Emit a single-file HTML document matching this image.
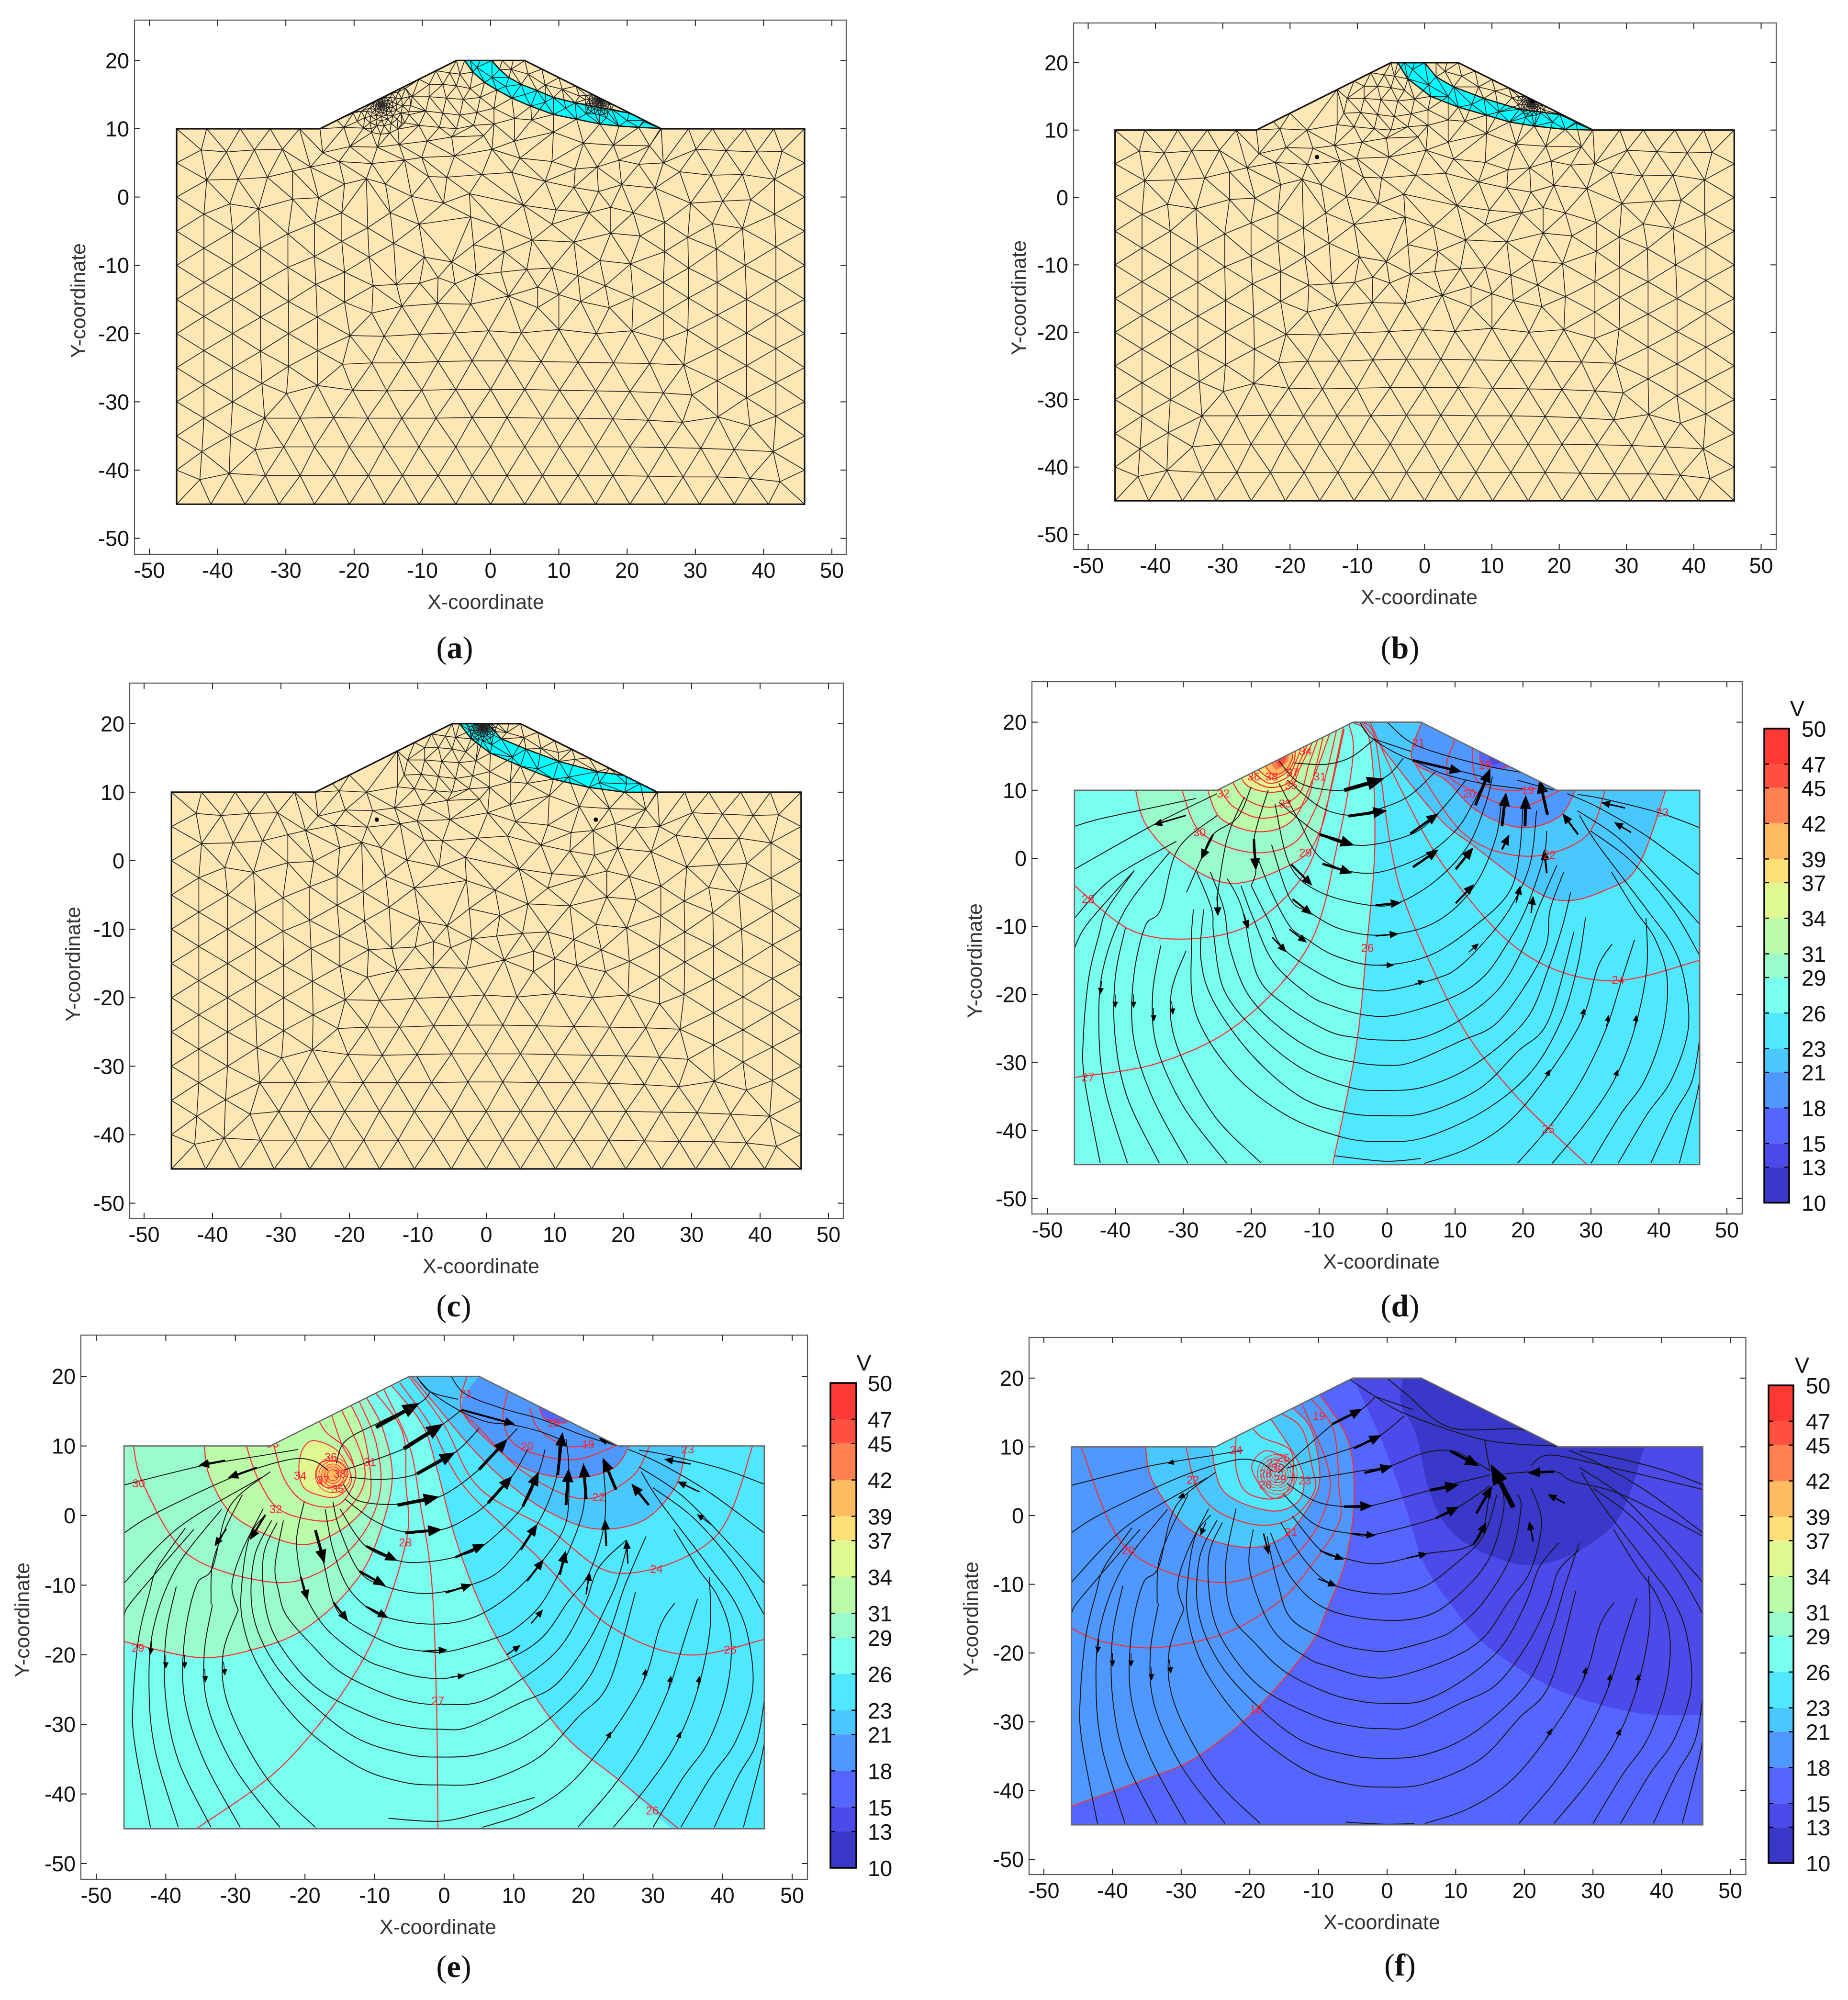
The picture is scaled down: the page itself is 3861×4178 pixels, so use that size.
<!DOCTYPE html>
<html lang="en">
<head>
<meta charset="utf-8">
<title>Seepage mesh and potential fields (a)-(f)</title>
<style>
html,body{margin:0;padding:0;background:#fff}
svg{display:block}
text{font-family:"Liberation Sans",sans-serif}
</style>
</head>
<body>
<svg id="fig" xmlns="http://www.w3.org/2000/svg" width="3861" height="4178" viewBox="0 0 3861 4178"></svg>
<script>
/* ---------- shared axis data ---------- */
const xTickValues=[-50,-40,-30,-20,-10,0,10,20,30,40,50];
const yTickValues=[-50,-40,-30,-20,-10,0,10,20];
const colorbarLevels=[50,47,45,42,39,37,34,31,29,26,23,21,18,15,13,10];
const bandLower=[47,45,42,39,37,34,31,29,26,23,21,18,15,13,10];
const bandColors=['#ff3a35','#ff5040','#ff8050','#ffbb60','#fce075','#e0f890','#bbfca8','#9bfccb','#78ffee','#50e8ff','#48c8ff','#4f98ff','#5566ff','#4c4ae8','#3a38c8'];
const domainOutline=[[-46,10],[-25,10],[-5,20],[5,20],[25,10],[46,10],[46,-45],[-46,-45]];

/* ---------- mesh nodes (data coordinates) ---------- */
const meshNodesCommon=[
[-46,-45],[-41,-45],[-36,-45],[-31,-45],[-25.8,-45],[-20.7,-45],[-15.6,-45],[-10.5,-45],[-5.1,-45],[0,-45],[5,-45],[10.1,-45],[15.4,-45],[20.4,-45],[25.6,-45],[30.6,-45],[35.7,-45],[40.7,-45],[46,-45],
[-46,-40],[-46,-35],[-46,-30],[-46,-25],[-46,-20],[-46,-15],[-46,-10],[-46,-5],[-46,0],[-46,5],[-46,10],
[46,-40],[46,-35],[46,-30],[46,-25],[46,-20],[46,-15],[46,-10],[46,-5],[46,0],[46,5],[46,10],
[-41.6,10],[-36.7,10],[-32.3,10],[-28,10],[-25,10],[25,10],[29,10],[32.5,10],[37.2,10],[41.5,10],
[-42.6,-41.4],[-38.3,-40.5],[-33,-40.8],[-27.9,-40.8],[-22.9,-40.8],[-17.9,-40.8],[-12.9,-40.8],[-7.7,-40.8],[-2.7,-40.8],[2.4,-40.8],[7.6,-40.8],[12.8,-40.8],[17.9,-40.8],[23.1,-40.9],[28.2,-41],[33.2,-41],[38,-41.2],[42.4,-41.7],
[-42.3,-37.3],[-38.1,-34.9],[-34.5,-37],[-30.3,-36.6],[-25.8,-36.6],[-20.7,-36.6],[-15.6,-36.6],[-10.5,-36.6],[-5.1,-36.6],[0,-36.6],[5,-36.6],[10.1,-36.6],[15.4,-36.6],[20.4,-36.6],[25.6,-36.7],[30.8,-36.8],[35.7,-37],[41.4,-37.3],
[-42,-32.4],[-33.1,-32.4],[-27.9,-32.4],[-23,-32.3],[-18,-32.4],[-13,-32.4],[-8,-32.4],[-2.7,-32.3],[2.4,-32.3],[7.6,-32.4],[12.8,-32.4],[17.9,-32.5],[23.1,-32.7],[28.1,-33],[33.3,-32.2],[38,-33.5],[41.8,-32.1],
[-42,-27.5],[-37.8,-30],[-33.5,-27.3],[-29.9,-28.8],[-25.4,-27.6],[-20.2,-28.3],[-15.2,-28.4],[-10.1,-28.3],[-5.1,-28.2],[0,-28.2],[5,-28.2],[10.1,-28.3],[15.4,-28.4],[20.4,-28.5],[25.3,-28.7],[29.5,-29],[33.2,-26.9],[37.5,-29.4],[41.8,-27.2],
[-42,-22.5],[-37.8,-25],[-33.7,-22.6],[-29.6,-24.8],[-25.3,-22.5],[-21.7,-24.5],[-17.4,-24.3],[-12.7,-24.3],[-7.7,-24.1],[-2.7,-24],[2.4,-24],[7.4,-24.1],[12.8,-24.2],[18,-24.3],[23.3,-24.4],[28.3,-24.6],[33.2,-22.2],[37.5,-24.7],[41.8,-22.2],
[-37.8,-20],[-33.7,-17.6],[-29.6,-20],[-25.4,-17.6],[-20.6,-20.3],[-15.6,-20.4],[-10.4,-20.1],[-5.3,-19.9],[-.3,-19.6],[4.5,-19.9],[10,-19.4],[15.5,-20],[20.7,-19.6],[25.3,-20.9],[28.9,-19.5],[33.2,-17.3],[37.5,-19.9],[41.8,-17.2],
[-42,-17.5],[-42,-12.5],[-42,-7.5],[-42,-2.5],[-41.6,2.5],[-42.4,6.9],
[-37.8,-15],[-37.8,-10],[-37.8,-5],[-38.2,-1],[-37,2.6],[-38.7,6.6],
[-33.7,-12.6],[-33.7,-7.5],[-34,-1.7],[-32.7,2.9],[-34.6,6.9],
[-29.6,-15.3],[-29.7,-10.3],[-29.7,-5.4],[-29,-.3],[-29,3.8],[-30.5,7],
[-25.6,-12.8],[-25.8,-8.7],[-25.8,-3.8],[-25.2,-.1],[-26.4,4.4],[-24.6,6.5],
[41.8,-12.3],[41.8,-7.3],[41.6,-2.5],[41.6,2.6],[42.7,6.7],
[37.5,-15],[37.3,-10],[36.9,-4.6],[38.1,-.4],[36.9,3.3],[39,6.6],
[33.2,-12.5],[33.1,-7.6],[32.5,-3.9],[34,-.6],[32.3,3.2],[34.5,6.8],
[29,-14.8],[29,-10.4],[28.9,-5.9],[29.3,-.9],[27.7,3.7],[30.1,7],
[25.3,-17],[25.3,-12.5],[25.5,-8],[25.5,-3.7],[24.1,1.3],[25.3,5],[23.3,7.5],
[-21.4,-15.4],[-17.4,-17],[-13,-16],[-7.8,-15.6],[-2.9,-15.7],[2.6,-14.5],[6.9,-13.2],[6.9,-16.2],[10,-14.3],[13.2,-15.3],[17.4,-16.2],[20.9,-14.7],
[-21.4,-11],[-17.2,-13],[-13.8,-12.8],[-10.4,-12.6],[-7.7,-11.8],[-5.2,-12.7],[-2.1,-11.4],[1.5,-11],[5.3,-10.6],[9,-10.4],[12.8,-11.5],[16.8,-13],[20.5,-9.8],[16,-9.3],
[-21.8,-6.5],[-17.8,-8.8],[-14.2,-6.8],[-9.7,-8.8],[-5.7,-9.5],[-2.5,-7],[1.3,-4.3],[6.1,-6.3],[12.2,-6.6],[17.6,-5.3],[21.9,-5.7],[2,-8],[9,-4],
[-21.8,-2.3],[-18,-4.5],[-14.7,-2.3],[-10.5,-4],[-6.9,-.9],[-2.9,-2.9],[4.8,-1.2],[9.6,-1.9],[14.4,-2.3],[17.6,-1.5],[20.9,-2.3],
[-21.4,1.9],[-18.2,2.7],[-15.4,1.9],[-11.6,.1],[-9.1,3],[-6.4,2.9],[-3.1,.5],[-1.3,3.3],[3.1,3.6],[8,2.3],[12.2,1.4],[15.8,.8],[19.2,1.8],
[-22.2,5.2],[-17.4,4.9],[-12.6,5.4],[-10.1,5.8],[-5.3,6],[.2,7],[4.3,5.7],[9,5.2],[12.4,4.1],[15.6,4.4],[18.8,5.4],[21.7,4.8],
[-20.6,7.4],[-16.6,7.3],[-13.4,7.7],[-9.3,8.2],[-5.7,8.8],[-1,9],[3.5,8.2],[9.2,9.5],[13.6,7.9],[18,7.6],
[-21.5,10.2],[-17.5,10],[-13,10.8],[-10.5,10.5],[-7.5,10.2],[-5,10],[-2.5,10.5],[.5,10.7],[3.5,11.5],[6,11.3],
[-22.5,11.25],[-20,12.5],[-13,16],[-10.5,17.25],[-8,18.5],[-5,20],[-3,20],[-1.5,20],[1.7,20],[3.3,20],[5,20],[7.5,18.75],[10,17.5],[12.5,16.25],[15,15],[18,13.5],[22.5,11.25],
[-12,12.5],[-9.5,12.6],[-7,12.3],[-4.5,12],[-2,12.4],[.5,13],
[-11.5,14.7],[-9,14.7],[-6.5,14.5],[-4,14.3],[-1.5,14.6],
[-9,16.5],[-7,16.5],[-5,16.3],[-3,15.9],
[-6,18.2],[-4.5,18],
[3,18.7],[5.5,18],[8,16.4],[10.5,15.8],[13,14.8]];
const clusterRadii=[.25,.5,.8,1.2,1.7,2.3,3.1,4.3];
const clusterCounts=[6,8,10,12,14,16,18,20];
const clusterCentersA=[[-16,13.5,1],[16,14.2,.5]];
const clusterCentersB=[[16,14.3,.5]];
const clusterCentersC=[[-.5,19.5,.45]];
const meshDotsA=[];
const meshDotsB=[[-16,6],[16,14.3]];
const meshDotsC=[[-16,6],[16,6]];
const slipOuterA=[[-3.8,20],[-2.6,18.3],[-.9,16.8],[.9,15.7],[3.1,14.5],[5.9,13.3],[9.2,12.1],[12.6,11.4],[16,10.7],[18.8,10.4],[21.7,10.2],[24.9,10.05]];
const slipInnerA=[[.2,20],[1.3,18.7],[2.7,17.5],[4.5,16.5],[6.8,15.6],[9.2,14.6],[12.4,13.8],[16,13.1],[20.3,12.3]];
const slipMidA=[[-2,19],[.2,17.5],[2.2,16.2],[5,15],[8,13.9],[11,13],[14,12.2],[17,11.6],[20,11.2],[22.5,11]];
const slipOuterB=[[-4,20],[-2.5,17.6],[.9,15],[5,13.4],[9.2,12.2],[12.6,11.2],[16.3,10.6],[20.9,10.1],[25,10]];
const slipInnerB=[[0,20],[1.7,17.9],[4.3,16.4],[8.8,14.7],[14.1,13.1],[20.1,12.3]];
const slipMidB=[[-1.8,19],[.6,16.7],[3.5,15],[7,13.8],[11,12.7],[15,11.9],[19,11.2],[22.5,11]];
const slipOuterC=[[-3.9,20],[-2.2,17.8],[.6,15.7],[5,13.8],[9.8,11.9],[15,10.7],[20.2,10],[24.9,10]];
const slipInnerC=[[.2,20],[2.2,17.8],[5.8,16.3],[10.6,14.5],[16.2,13],[20.4,12.4]];
const slipMidC=[[-1.8,19],[.8,16.9],[3.8,15.1],[7.5,13.4],[12,12.2],[16.5,11.4],[20.5,11.2]];

/* ---------- potential field: filled bands ---------- */
const regionsD=[
{band:26,pts:[[-8,-46],[-4.6,-28],[-3,-13],[-1.8,2],[-2.5,17],[-5.4,20]],close:[[-5.4,30],[-50,30],[-50,-50],[-8,-50]]},
{band:29,pts:[[-37,10],[-35.5,5],[-30.8,0],[-22.8,-3.7],[-13.1,-.3],[-9.8,4.2],[-8.2,10.8],[-6.4,19.4]]},
{band:31,pts:[[-26.4,10],[-24.4,5.8],[-18.9,3.9],[-13.9,5.6],[-11,11.5],[-9.8,14.5],[-8.4,18.4]]},
{band:34,pts:[[-21.8,12.3],[-20.3,10.5],[-17.1,9.7],[-14.1,10.5],[-12.9,13.1],[-11,16.97]]},
{band:37,pts:[[-19.4,13.4],[-17.1,11.7],[-14.8,12.6],[-13.7,14.3],[-13.5,15.7]]},
{band:39,pts:[[-18.3,14],[-16.7,12.3],[-14.9,13],[-14,14.5],[-13.9,15.3]]},
{band:42,pts:[[-17.4,14.6],[-16.3,13],[-14.7,14.2],[-14.5,15]]},
{band:45,pts:[[-16.5,14.9],[-15.9,13.4],[-14.9,14.4],[-14.9,15]]},
{band:21,pts:[[41,10],[37.2,-.6],[33,-4.3],[24.1,-5.9],[12.4,2.1],[7.1,6.5],[-1.8,17.6],[-3.8,20]]},
{band:18,pts:[[27.7,10],[25.3,6.1],[19.7,4.5],[13.2,7],[8.6,11.5],[3.7,14.5],[5.1,20]]},
{band:15,pts:[[17.9,13.5],[16.4,13.2],[14,13.9],[13.6,15.2]]},
{band:13,pts:[[16.6,14],[15.5,13.8],[14.9,15]]}];
const regionsE=[
{band:26,pts:[[33.7,-46],[25.1,-38],[17.5,-31.8],[11.5,-23.7],[7.2,-16.9],[3.8,-9.4],[1.2,-1.9],[-.9,6.2],[-3.1,13],[-7.6,18.7]],close:[[-7.6,30],[-50,30],[-50,-50],[33.7,-50]]},
{band:29,pts:[[-47,-18],[-35,-20.4],[-26.2,-18.9],[-19.9,-16.2],[-14,-11],[-10.2,-5],[-7.5,4.7],[-8.7,12.1],[-11.2,17]]},
{band:31,pts:[[-34.5,10.2],[-33.6,5.3],[-29.8,-.4],[-21.3,-4.1],[-15.7,-2.6],[-11.5,1],[-10.5,4.7],[-11.5,11.5],[-13.4,15.9]]},
{band:34,closed:true,pts:[[-19.2,10.7],[-15.7,9.6],[-13.8,6.9],[-13.4,4.7],[-15.2,2.8],[-17.5,2.8],[-20.3,4.2],[-20.8,8]]},
{band:37,closed:true,pts:[[-17.5,7.7],[-15,7.7],[-13.8,6],[-15,4.4],[-17.1,4.1],[-18.4,5.8]]},
{band:39,closed:true,pts:[[-16.8,7.1],[-15,7.1],[-14.7,5.7],[-15.7,4.7],[-17.1,4.9],[-17.8,5.9]]},
{band:21,pts:[[-4.8,20.1],[-.9,15.5],[3.8,9.9],[8.9,4.9],[14.9,.6],[21.7,-1.9],[28.6,-.7],[33.3,4.3],[34.8,10.2]]},
{band:18,pts:[[5,20.1],[2.5,15.2],[7.2,9.9],[12.3,6.5],[18.7,5.4],[24.3,6.8],[26.7,10.2]]},
{band:15,pts:[[13.6,15.8],[14.5,13.9],[17,13.3],[17.9,13.7]]}];
const regionsF=[
{band:18,pts:[[-47,-42.6],[-35.6,-38.5],[-28,-35.3],[-19.2,-28.3],[-11.3,-19],[-8.8,-13.8],[-6,-6.4],[-4.8,2.7],[-5.7,11],[-9.8,17.6]]},
{band:21,pts:[[-35.2,10],[-34.1,4.9],[-28.8,-2],[-21,-4.6],[-15.3,-3.3],[-11.4,1.3],[-9.8,5.5],[-11,12.4],[-13.8,15.7]]},
{band:23,pts:[[-25.6,10],[-23.8,3.5],[-17.2,.7],[-13.1,1.9],[-12.1,5.2],[-13.5,8.8],[-16.9,14]]},
{band:13,pts:[[-5.4,21],[-.4,10],[2.9,.6],[5.4,-7],[9.6,-13.3],[14.6,-19],[24.7,-25.3],[36.4,-28.7],[47,-29]]},
{band:10,pts:[[2.5,21],[2,16.3],[4.2,11.9],[6.3,3.1],[9.6,-2.6],[15.5,-6],[21.3,-7.2],[28,-5.1],[33.9,-.1],[37.5,10]]}];
const baseBandD=23, baseBandE=23, baseBandF=15;

/* ---------- potential field: red contour lines ---------- */
const contoursD=[
[[-46,-32.2],[-33.4,-30],[-21.6,-24.1],[-11.4,-12.6],[-7.2,2.5],[-5,15],[-5.6,19.7]],
[[-8,-45],[-4.6,-28],[-3,-13],[-1.8,2],[-2.5,17],[-5,20]],
[[-46,-4],[-37.6,-10.6],[-28.4,-11.8],[-19.5,-9.4],[-12,-2],[-8.8,8],[-6.3,19]],
[[-37,10],[-35.5,5],[-30.8,0],[-22.8,-3.7],[-13.1,-.3],[-9.8,4.2],[-8.2,10.8],[-6.4,19.4]],
[[-30.2,10],[-27.4,3.8],[-20.3,.9],[-13.9,2.1],[-10.6,7.2],[-8.9,12.6],[-7.4,19]],
[[-26.4,10],[-24.4,5.8],[-18.9,3.9],[-13.9,5.6],[-11,11.5],[-9.8,14.5],[-8.4,18.4]],
[[-24.6,10.2],[-22.5,7.5],[-18.1,5.9],[-12.3,7.9],[-10.6,13],[-9.4,17.9]],
[[-22.9,11.6],[-21.1,8.9],[-17.1,7.5],[-13,9.4],[-11.5,13.8],[-10.2,17.4]],
[[-21.8,12.3],[-20.3,10.5],[-17.1,9.7],[-14.1,10.5],[-12.9,13.1],[-11,16.97]],
[[-20.7,12.8],[-19.5,11.3],[-17.1,10.4],[-14.3,11.2],[-13.2,13.4],[-11.8,16.5]],
[[-20,13.1],[-18.8,11.9],[-17.1,11],[-14.6,12],[-13.5,14],[-12.7,16.1]],
[[-19.4,13.4],[-17.1,11.7],[-14.8,12.6],[-13.7,14.3],[-13.5,15.7]],
[[-18.3,14],[-16.7,12.3],[-14.9,13],[-14,14.5],[-13.9,15.3]],
[[29.4,-45],[18.6,-34.5],[10.6,-23.9],[3,-7.5],[.4,2.5],[-1.7,17.3],[-3.5,20]],
[[46,-15],[32.5,-18],[19.9,-13.8],[8.9,-1.9],[2.1,10],[-2.5,20]],
[[41,10],[37.2,-.6],[33,-4.3],[24.1,-5.9],[12.4,2.1],[7.1,6.5],[-1.8,17.6],[-3.8,20]],
[[32.1,10],[29.1,3.1],[20.7,.3],[11.4,3.5],[3.8,14.4]],
[[27.7,10],[25.3,6.1],[19.7,4.5],[13.2,7],[8.6,11.5],[3.7,14.5],[5.1,20]],
[[25.5,10],[19.3,7.5],[13.2,9.6],[8.8,12.6],[10,17.5]],
[[22.1,10.3],[17.3,10],[13.2,11.5],[12.5,16.25]],
[[13.6,15.2],[14,13.9],[16.4,13.2],[17.9,13.5]]];
const contoursE=[
[[-46,-18.1],[-35,-20.4],[-26.2,-18.9],[-19.9,-16.2],[-14,-11],[-10.2,-5],[-7.5,4.7],[-8.7,12.1],[-11.2,17]],
[[-44.7,10.2],[-43.1,4.2],[-36.8,-5.6],[-25.4,-9.5],[-18.2,-8.3],[-12.2,-3.4],[-9.2,3.4],[-9.8,10.5],[-12.2,16.4]],
[[-34.5,10.2],[-33.6,5.3],[-29.8,-.4],[-21.3,-4.1],[-15.7,-2.6],[-11.5,1],[-10.5,4.7],[-11.5,11.5],[-13.4,15.9]],
[[-28.5,10.2],[-26.6,5],[-23.4,.7],[-16.8,-.8],[-13.6,1.2],[-11.5,4.7],[-11.9,8.8],[-14.8,15.3]],
[[-24.5,10.2],[-23.1,5.5],[-20.6,2.3],[-16.9,1.2],[-14.3,2.3],[-12.7,6.1],[-14.7,10.2],[-16.2,14.5]],
[[-18,13.6],[-16.8,11.8],[-14,9.6],[-12.9,7]],
[[-35.6,-45],[-22.8,-35.5],[-11.6,-20.6],[-5.6,-4.4],[-5.5,4.7],[-6,12],[-9.9,17.7]],
[[-.9,-45],[-1.1,-26.8],[-1.8,-9.4],[-3.5,2],[-5,10],[-8.7,18.2]],
[[33.7,-45],[25.1,-38],[17.5,-31.8],[11.5,-23.7],[7.2,-16.9],[3.8,-9.4],[1.2,-1.9],[-.9,6.2],[-3.1,13],[-7.6,18.7]],
[[46,-17.8],[34.6,-20],[23.4,-15.6],[13.2,-5.7],[3,4],[-2,13],[-6.4,19.1]],
[[44.4,10.2],[38.8,-3.2],[25.1,-8.3],[14.9,-1.9],[5,4],[0,13],[-5,19.9]],
[[-4.8,20.1],[-.9,15.5],[3.8,9.9],[8.9,4.9],[14.9,.6],[21.7,-1.9],[28.6,-.7],[33.3,4.3],[34.8,10.2]],
[[29.6,10.2],[26.9,5.5],[20,2.4],[11.5,6.2],[4.6,13],[2,15.2]],
[[3.3,20.1],[2.5,15.2],[7.2,9.9],[12.3,6.5],[18.7,5.4],[24.3,6.8],[26.7,10.2]],
[[25.1,10.2],[18.3,8],[10.6,9.9],[8.5,13.9],[9.3,18.3]],
[[21.3,10.2],[17.5,10],[13.6,12.4],[12.3,15.5]],
[[13.6,15.8],[14.5,13.9],[17,13.3],[17.9,13.7]]];
const closedContoursE=[
[[-19.2,10.7],[-15.7,9.6],[-13.8,6.9],[-13.4,4.7],[-15.2,2.8],[-17.5,2.8],[-20.3,4.2],[-20.8,8]],
[[-17.5,7.7],[-15,7.7],[-13.8,6],[-15,4.4],[-17.1,4.1],[-18.4,5.8]]];
const contoursF=[
[[-46,-42.3],[-35.6,-38.5],[-28,-35.3],[-19.2,-28.3],[-11.3,-19],[-8.8,-13.8],[-6,-6.4],[-4.8,2.7],[-5.7,11],[-9.8,17.6]],
[[-46,-16.4],[-41.2,-18.4],[-33.4,-19.2],[-23.5,-17.1],[-15.6,-12.4],[-11,-7.2],[-7,-1],[-7,4],[-7.8,12.4],[-11,16.9]],
[[-44.6,10],[-38,-4.7],[-25.2,-9.7],[-15.6,-7.2],[-11,-3],[-8.5,2.7],[-8.6,7],[-10.5,12],[-12.4,16.2]],
[[-35.2,10],[-34.1,4.9],[-28.8,-2],[-21,-4.6],[-15.3,-3.3],[-11.4,1.3],[-9.8,5.5],[-11,12.4],[-13.8,15.7]],
[[-29.3,10],[-27.7,4.1],[-24.5,.5],[-18.6,-1.4],[-13.8,-.3],[-10.6,3.5],[-10.9,7],[-12.4,12.6],[-15.3,14.8]],
[[-25.6,10],[-23.8,3.5],[-17.2,.7],[-13.1,1.9],[-12.1,5.2],[-13.5,8.8],[-16.9,14]],
[[-22,11.4],[-22,6.9],[-20.6,3.5],[-17,2.4],[-14.6,3.5],[-13.7,6.3],[-14.2,9.6],[-18.1,11.3],[-19.5,12.6]]];
const closedContoursF=[
[[-18.1,9.3],[-15.6,8.8],[-13.7,6.8],[-14,3.5],[-17,2.7],[-19.7,6.8]]];
const sourceCenterE=[-16,5.8];
const sourceRadiiE=[.8,1.2,1.6,2,2.5];
const sourceCenterF=[-16,6];
const sourceRadiiF=[.4,.8,1.2,1.6,2,2.4,2.9];

/* ---------- contour labels ---------- */
const labelsD=[['34',-12,15.7],['37',-13.9,12.6],['36',-19.6,12],['38',-17,12],['31',-9.9,12],['35',-14.1,10.7],['32',-24.1,9.5],['33',-15,8],['30',-27.6,3.8],['29',-12,.8],['28',-44,-6],['27',-44,-32.2],['26',-2.9,-13.2],['25',23.7,-39.8],['24',34,-17.9],['23',40.5,6.7],['22',23.9,.5],['21',4.6,17],['20',12.1,9.5],['19',20.7,10],['18',14.4,13.7]];
const labelsE=[['33',-24.7,10.3],['36',-16.3,8.4],['31',-10.7,7.7],['34',-20.7,5.7],['37',-17.4,5.1],['38',-15,6],['35',-15.3,3.8],['32',-24.2,.9],['30',-43.9,4.6],['29',-44,-19],['28',-5.6,-3.9],['27',-.9,-26.6],['26',29.9,-42.4],['25',41.1,-19.3],['24',30.5,-7.7],['23',35,9.5],['22',22.2,2.6],['21',3.1,17.5],['20',11.9,9.9],['19',20.7,10.2],['18',15.7,13.3]];
const labelsF=[['19',-9.9,14.5],['24',-22,9.5],['25',-15.1,8.4],['27',-16.6,7.6],['22',-28.3,5.2],['23',-12,5.1],['26',-17.7,4.5],['28',-17.7,6.1],['30',-15.9,6.9],['29',-15.6,5.3],['21',-14,-2.4],['20',-37.7,-5.1],['18',-19.1,-28.2]];

/* ---------- streamlines ---------- */
const streamsLower=[
[[-42.2,-44.8],[-44.5,-32.6],[-44.7,-26.4],[-43.9,-17.6],[-42.4,-11.3],[-41.2,-7.5],[-37.2,-1.8]],
[[-38.2,-44.8],[-41.5,-33.9],[-42.4,-25.1],[-41.8,-16.3],[-38.5,-7.5],[-32,.9]],
[[-33.5,-44.8],[-38.2,-35.2],[-40,-26.4],[-40,-17.6],[-38.5,-10.2]],
[[-29.3,-44.8],[-34.5,-35.2],[-37.3,-26.4],[-37.3,-17.6],[-35.6,-10],[-33.3,-7.5],[-30.8,1.3],[-25,6.3]],
[[-23.6,-44.8],[-30,-36.4],[-33.9,-27.6],[-34.5,-20.1],[-33.3,-12.8]],
[[-18.5,-44.8],[-25.5,-37.7],[-30.9,-27.6],[-31.8,-20.1],[-29.6,-13.6]],
[[5.5,-44.8],[11.7,-42.7],[17.7,-38.9],[23.1,-32.6],[28.6,-23.9],[31,-16],[33.1,-12.6]],
[[19.2,-44.8],[24.3,-38.9],[28.6,-32.6],[32.2,-25.1],[34.6,-17.6],[36.4,-12]],
[[24.3,-44.8],[29.2,-38.9],[33.4,-32.6],[36.4,-25.1],[38.2,-16.3],[38.1,-8.8]],
[[30,-44.8],[34.3,-37.7],[37.9,-32.6],[40.6,-25.1],[41.2,-17.6],[39.4,-11.8],[36.4,-7.5],[33,-2]],
[[34,-44.8],[38.2,-37.7],[41.8,-32.6],[44.3,-25.1],[43.7,-17.6],[41.8,-12.5],[38.2,-7.5],[31,2],[28.3,6.3]],
[[38.8,-44.8],[42.1,-37.7],[44.9,-32.6],[46.2,-25]],
[[43,-44.8],[45.5,-35.2],[46.4,-30]],
[[46,-14.3],[42,-7.5],[36,-.5],[30,4]],
[[46,-9.7],[40,-3],[34,3],[28,7]],
[[46,-2.5],[38,3.4],[31,7.5],[26.5,9.5]],
[[46,4.5],[40,6.7],[32,8.7],[28,9.4]]];
const streamsEdgeEF=[
[[-46,4.4],[-34.6,7.2],[-25.7,8.7],[-21,9.5]],
[[-46,-2.5],[-41.5,.3],[-30.4,5.5],[-22.5,8],[-18.9,7.9],[-16.7,6.5]],
[[-46,-9.7],[-38,-1.6],[-26.2,5.5]],
[[-46,-14.4],[-44.7,-12.1],[-36,-2]],
[[-29,3],[-31.5,-2],[-33.3,-7],[-33.5,-12.8]],
[[-26,1],[-29,-5],[-30.5,-10],[-29.6,-13.6]]];
const streamsD=[
[[-46,4.7],[-42.2,5.8],[-34.2,7.5],[-28.1,8.8]],
[[-46,-1.6],[-34.2,5],[-25,9.5]],
[[-46,-8.8],[-40.5,-3],[-31,2.5]],
[[-46,-13.2],[-44,-9.5],[-37.2,-1.8]],
[[-15.9,14.3],[-12.7,11],[-6.6,10],[-.5,11.8],[2.4,14.7]],
[[-13.7,14],[-9.1,13.8],[-5.4,14.8],[-2.1,17.3]],
[[-14.7,11.5],[-9.8,7.5],[-5.4,6.3],[-2,7],[3,9],[7.1,12.7]],
[[-15.9,8.2],[-9.8,3.5],[-3.8,1.9],[3.5,3.5],[7.5,6.6],[11.6,11.5]],
[[-15.9,11],[-13,5.6],[-9.5,-.2],[-2.6,-2.2],[5.1,.2],[10,4],[12.6,8],[15.2,13.1]],
[[-16.5,8],[-14.3,-1],[-10,-4.9],[-2.6,-6.9],[2,-6.4],[7.5,-3],[12,2],[14.5,8],[15.5,12]],
[[-17,2],[-14.3,-5.9],[-11.3,-8],[-7.1,-10.3],[-1.6,-11.3],[5,-10.3],[9.8,-7.5],[13.5,-3],[16,3],[16.8,8]],
[[-19,0],[-17,-5],[-14.3,-10],[-11.9,-11.8],[-7.7,-14.3],[-1.6,-15.7],[6.2,-14.3],[13.2,-9.7],[18,-4.9],[19.5,1],[20,8]],
[[-20,-4],[-17.5,-9],[-14.9,-13.6],[-7.7,-18.1],[-2.8,-19.3],[.8,-19.3],[7.4,-17.6],[10.4,-16.1],[14.1,-12.5],[18,-7.5],[21,-1],[22,7]],
[[-21.5,-4],[-19.7,-8.8],[-16.7,-15.3],[-11.6,-20],[-8.3,-21.6],[-3.4,-23],[1.4,-23],[9.2,-20.6],[14.1,-17.5],[17.7,-12.5],[20.4,-7.5],[23,0],[23.5,4]],
[[-23.5,-3],[-21.3,-7.5],[-19.1,-17.2],[-14.9,-21.6],[-8.6,-25.4],[-4,-26.4],[-.4,-26.7],[5,-26.4],[11,-23.6],[16.5,-19.1],[20.1,-13],[22.2,-7.5],[25,-1]],
[[-26,-2],[-24,-7.5],[-23.1,-13.3],[-20.4,-20.1],[-15.5,-25.1],[-10.1,-28.5],[-4.6,-30],[-.4,-30.4],[3.5,-30],[10.7,-26.9],[15.9,-24.4],[20.4,-18.6],[23.4,-12.8],[24,-7.5],[26,-2]],
[[-28,-2],[-25.8,-7.5],[-25.5,-11.3],[-24,-19.3],[-19.1,-25.6],[-12.5,-30.9],[-5.3,-33.7],[-.4,-34.1],[5,-33.7],[11,-31.4],[16.5,-27.6],[21,-22.9],[23.7,-16.3],[25.8,-10],[27,-5]],
[[-27,-7.5],[-27.4,-14.7],[-25.5,-21.1],[-19.7,-29.1],[-12.5,-35.2],[-5.9,-37.4],[-.4,-37.8],[5.6,-37.4],[13.5,-33.9],[19.2,-28.4],[23.7,-23.9],[27.5,-10.8]],
[[-28.5,-7.5],[-28.8,-13],[-28.2,-22.6],[-22.8,-31.4],[-14.9,-37.7],[-6.5,-41],[-.4,-41.6],[5.6,-41],[14.1,-37.2],[21,-31.6],[25.5,-24.1],[28,-16],[29.2,-8.7]],
[[-7.7,-43.7],[-.4,-44.5],[5,-44.1]],
[[-17.5,10],[-19.6,2.8],[-19.3,-1.8],[-20,-4]],
[[-20,10.5],[-22,6],[-25.6,3.5],[-27.4,-.2],[-29.5,-5]],
[[-21,9],[-23.5,3],[-25,-5.6]],
[[-4,20],[-2.2,17.6],[3.5,14.5],[11.2,12.7],[14,12]],
[[-2.2,17.6],[3.5,15.7]],
[[0,20],[4.3,16.6],[13.6,13.8],[20.5,12.5]],
[[19.1,11.5],[24.5,10]],
[[3.8,14.4],[8,12.5],[14,11],[20,10.2]]];
const streamsE=[
[[-15.5,7.5],[-14.2,10.7],[-9.3,13.4],[-3.5,16.2],[-2,17.8]],
[[-4,20],[-2,17.8],[2,16.7]],
[[-4,20],[-2,17.8],[2,15.2],[6,13.5],[10,13],[14,12],[17,10.8]],
[[1,20],[3,17.5],[8,15.5],[14,13.8],[20,11.5],[25,10]],
[[-14.5,6.5],[-5.8,9.6],[-.1,13.2],[2.5,15.2]],
[[-13.6,5.5],[-9,5.2],[-3.9,6],[1.6,9.1],[5,12.5]],
[[-14.5,4.5],[-12.5,2.2],[-7,1.6],[-.7,2.7],[5,6.6],[9.1,11],[10.5,12.5]],
[[-14.3,2.4],[-10.1,-.7],[-5.9,-2.3],[-.3,-2],[3.6,-.2],[6.3,1.8],[9.8,5.7],[12,9.5]],
[[-15,1],[-11.5,-4.2],[-6.9,-6.4],[-3.1,-6.7],[1.8,-5.9],[5.9,-4.1],[11.3,1.3],[13.6,6.3],[14.5,9.5]],
[[-16,2],[-15,-2],[-12.2,-8],[-8.4,-10.2],[-2.4,-11.2],[4,-9.9],[8.5,-7.5],[13.4,-1.2],[16,5],[16.5,10]],
[[-17.1,.9],[-16,-4.8],[-14,-10],[-11.2,-13.1],[-8,-14.7],[-1.7,-15.6],[4.3,-14.6],[10,-11],[14.3,-6.3],[17.5,-1],[17.9,6.8],[17.5,11]],
[[-18.5,-2.3],[-17.3,-6.9],[-15.9,-12.5],[-13.8,-15.2],[-7.7,-18.5],[-2.8,-19.5],[.8,-19.5],[7.4,-17.6],[10.4,-16.1],[14.1,-12.5],[17.5,-6],[20,1],[20,7.5]],
[[-20.1,2],[-21.2,-3.4],[-20.6,-8.9],[-19.6,-12.2],[-16.7,-16.5],[-11.6,-20.5],[-8.3,-21.9],[-3.4,-23.2],[1.4,-23.2],[9.2,-20.6],[14.1,-17.5],[17.7,-12.5],[20.9,-8.1],[23.1,-.5],[22.8,8]],
[[-23.1,-.7],[-24.3,-7.2],[-23.8,-10.8],[-22.7,-14.3],[-19.2,-18.4],[-14.9,-22.5],[-8.6,-25.6],[-4,-26.9],[-.4,-27.1],[5,-26.8],[11,-23.6],[16.5,-19.1],[20.1,-13],[22.2,-7.5],[26.2,-3.5]],
[[-24,-1],[-26,-6],[-25.5,-14],[-23,-19.5],[-18,-25],[-10.1,-29],[-4.6,-30.4],[-.4,-30.7],[3.5,-30.4],[10.7,-27],[15.9,-24.4],[20.4,-18.6],[23.4,-12.8],[25,-9],[26.4,-4]],
[[-24.8,-.7],[-27.3,-6.1],[-27.5,-14],[-24.5,-21.1],[-19.1,-27],[-12.5,-32],[-5.3,-34.3],[-.4,-34.7],[5,-34.3],[11,-32],[16.5,-28],[21,-23],[24,-16],[26,-10],[29,-3]],
[[-25.7,.1],[-27.9,-2.9],[-29,-9],[-29,-15],[-26.5,-22],[-20.5,-30],[-12.5,-36],[-5.9,-38.3],[-.4,-38.7],[5.6,-38.3],[13.5,-34.8],[19.2,-29],[23.7,-24],[27.5,-11]],
[[-8,-43.5],[-.4,-43.9],[6,-42.5],[13,-40.5]]];
const streamsF=[
[[-1.7,17.3],[3.8,15.4]],
[[0,20],[2.9,17.6],[9.2,12.8],[19.7,12.5],[24.7,10]],
[[-5.4,19.8],[-1.7,17.3],[2.9,14.7],[14.2,11],[24.7,10.1]],
[[14.2,11],[15,6.5]],
[[-15.9,6.2],[-8,13.2],[-3.8,15.4],[-1.7,17.3]],
[[-14.6,6.9],[-4.6,10],[-.8,11.8],[2.5,14.5]],
[[-14.6,5.6],[-10.5,5.5],[-3.8,6.5],[.4,7.2],[5.4,9.1],[9.6,9.4],[13.4,7.5],[15,6.5]],
[[-14.6,4.7],[-10.5,2.1],[-6.3,1.3],[-2.5,1.4],[6.3,3.7],[10,4.7],[15,5.9]],
[[-15.1,3.1],[-10.5,-1.3],[-5.4,-2.6],[-2.1,-2.8],[7.1,-.4],[10.5,1.3],[15,4.3]],
[[-13.8,-.1],[-9.6,-5.1],[-6.3,-6.2],[-1.3,-7],[5.4,-5.6],[13,-3.8],[15,4]],
[[-15.5,-1],[-12,-6.5],[-8,-10],[-1,-11.4],[5,-10.5],[10,-7],[14,-3],[16,3]],
[[-17,-2.5],[-14,-9],[-9,-13.5],[-1,-15.2],[6,-14.5],[11,-11],[15,-6],[17,1],[16.5,5]],
[[-17.5,-3],[-15.9,-10],[-13.8,-15.2],[-7.7,-18.5],[-2.8,-19.6],[.8,-19.6],[7.4,-17.8],[10.4,-16.1],[14.1,-12.5],[18,-6],[19.5,1],[19,3]],
[[-19.5,-2],[-20,-8],[-16.7,-16.5],[-11.6,-20.7],[-8.3,-22],[-3.4,-23.4],[1.4,-23.4],[9.2,-20.8],[14.1,-17.7],[17.7,-12.5],[20.9,-8],[22.5,-1],[21,4]],
[[-22,1],[-23.5,-7],[-22.7,-14.3],[-19.2,-18.6],[-14.9,-22.7],[-8.6,-25.8],[-4,-27],[-.4,-27.3],[5,-27],[11,-24],[16.5,-19.3],[20.1,-13],[22.2,-7.5],[25,-4]],
[[-24,-1],[-26,-6],[-25.5,-14],[-23,-19.7],[-18,-25.3],[-10.1,-29.3],[-4.6,-30.7],[-.4,-31],[3.5,-30.7],[10.7,-27.3],[15.9,-24.6],[20.4,-18.8],[23.4,-12.8],[25,-8],[28,-5]],
[[-24.8,-.7],[-27.3,-6.1],[-27.5,-14],[-24.5,-21.3],[-19.1,-27.5],[-12.5,-32.7],[-5.3,-34.9],[-.4,-35.3],[5,-34.9],[11,-32.6],[16.5,-28.5],[21,-23.5],[24,-16.5],[26,-10],[28,-4]],
[[-25.7,.1],[-27.9,-2.9],[-29,-9],[-29,-15],[-26.5,-22.5],[-20.5,-30.5],[-12.5,-36.7],[-5.9,-39],[-.4,-39.5],[5.6,-39],[13.5,-35.5],[19.2,-29.5],[23.7,-24.5],[27.5,-11]],
[[-6,-44.6],[-.4,-44.9],[4,-44.8]],
[[20.9,7.2],[23.8,8.8],[33,6.9],[46,3.8]],
[[17.2,6.1],[24.3,6.4],[27,5],[34.3,3],[46,-3]]];

/* ---------- flow arrows: x1,y1,x2,y2,weight ---------- */
const arrowsCommon=[[-42,-18,-42.2,-20,1.5],[-40,-20,-40,-22,1.5],[-37.3,-20,-37.3,-22,1.5],[-34.4,-22,-34.3,-24,1.5],[-31.7,-21,-31.5,-23,1.5],[28.6,-23.9,29,-22,1.5],[32.2,-25.1,32.6,-23,1.5],[36.4,-25.1,36.7,-23,1.5],[23.1,-32.6,24,-31,1.5],[33.4,-32.6,34,-31,1.5]];
const arrowsD=[[-6.3,10,-.4,11.7,8],[-5.7,6.2,0,7,6],[-9.9,3.5,-4.8,1.9,6],[-9.5,-.8,-5.1,-2.2,5],[3.4,3.6,7.6,6.6,5],[3.8,-1.3,7.6,1.3,5],[10.1,-1.6,12.7,1.6,5],[10.1,-6.6,12.8,-3.8,4],[13,7.8,15.2,13.2,6],[16.9,4.7,17.5,9.7,6],[20.3,4.7,20.4,9.3,6],[23.6,6.4,22.4,11.6,6],[3.8,14.4,11,12.7,5],[28.1,3.5,25.8,6.6,4],[35.9,3.8,33.4,5.3,3],[35,7.4,31.5,8.2,3],[16.9,1.3,18,3.5,4],[23.5,-2.2,23.1,1.3,4],[-19.6,2.8,-19.3,-1.8,5],[-25.6,3.5,-27.4,-.2,4],[-14.1,-.9,-11,-4,4],[-13.9,-6,-11,-8.3,4],[-14.4,-10.4,-11.8,-12.4,3],[-16.9,-11.6,-14.8,-13.8,3],[-21.1,-8.2,-20.4,-10.4,3],[-25,-5.6,-24.9,-8.5,3],[-29.6,6.3,-34.4,4.9,3],[-1.7,-6.9,2.1,-6.5,4],[-1.7,-11.4,1.7,-11.1,3],[-1,-15.7,1,-15.7,2],[4,-18.5,5.5,-18,1.5],[12,-13.8,13.5,-12.5,2],[19,-6.5,19.6,-4,3],[21.2,-8,21.5,-5.5,3]];
const arrowsE=[[-9.8,12.7,-3.5,16.2,8],[-5.8,9.6,-.1,13.2,8],[-3.9,6,1.6,9.1,7],[-6.7,1.5,-.7,2.7,7],[-5.6,-2.5,-.3,-2,6],[-11.2,-4.4,-6.7,-6.5,5],[-12.2,-8,-8.4,-10.1,5],[-11.2,-13.1,-8,-14.7,4],[-15.9,-12.5,-13.8,-15.2,4],[-18.5,-2.1,-17.2,-6.9,6],[-20.6,-8.8,-19.6,-12.2,4],[-25.7,.1,-27.9,-3.5,4],[-31.3,-1.9,-33,-4.4,3],[-26.9,6.9,-31.1,5.4,4],[-31.5,7.9,-35.3,7.2,4],[.2,-11.1,4,-9.9,4],[1.6,-6,5.9,-4.1,5],[6.3,1.8,9.8,5.7,6],[5,6.6,9.1,11,6],[11.3,1.3,13.6,6.3,6],[11,-4.9,13.4,-1.2,5],[16.6,-8.5,17.5,-5,5],[11.9,-9.4,14.3,-6.3,4],[16.3,5.8,17,12,6],[17.5,1.5,17.9,6.8,6],[20.4,2.4,20,7.5,6],[24.7,3.7,22.8,8.3,6],[29.4,1.5,26.9,4.6,5],[35.4,7.4,31.6,8.1,3],[36.7,3.4,33.5,4.9,3],[38.4,-1.3,36.3,.2,2],[23.3,-4.4,23.1,-.5,4],[26.4,-6.9,26.2,-3.5,3],[20.4,-11.3,20.9,-8.1,3],[2.5,15.2,10.2,13.1,4],[25.6,9.9,22.2,11.1,3],[-3,-19.5,.5,-19.3,3],[1,-23.2,3,-23,2],[9,-20,11,-18.6,2.5],[12.5,-15.5,14.2,-13.5,2.5]];
const arrowsF=[[18.4,1.2,15.1,7.5,10],[9.2,9.4,13.4,7.2,6],[24.3,6.4,20.5,6.2,5],[6.3,3.7,10.5,4.5,6],[7.1,-.4,10.5,1.3,5],[13,.3,15.3,4.3,5],[12.6,-4.2,14.5,-1,4],[-8,13.3,-3.6,15.5,5],[-4.8,9.8,-.8,11.7,5],[-3.3,6.2,.8,7.2,5],[-6.3,1.3,-2.1,1.4,5],[-5.4,-2.6,-1.7,-2.9,3],[-9.8,-5.1,-6.3,-6.4,3],[-10,-9.2,-7.3,-10.3,3],[-18,-2.6,-17.2,-5.7,3],[-26.4,-1,-27.2,-2.9,2],[21.3,-3.8,20.7,-.8,3],[25.9,1.8,23.4,3.1,3],[2.9,-6.2,5.9,-5.5,3],[-31,7.8,-32,7.6,1.5],[-29,3.2,-30.5,2.5,2]];

/* ---------- panel layout ---------- */
const panels=[
{id:'a',caption:'a',capX:950,capY:1375,x0:1025,y0:411.6,ux:14.26,uy:14.26,L:281,R:1768,T:42,B:1158,xt:1015,ytx:163,yty:628,slip:[slipOuterA,slipInnerA,slipMidA],cl:clusterCentersA,dots:meshDotsA},
{id:'b',caption:'b',capX:2925,capY:1375,x0:2976.5,y0:412.5,ux:14.06,uy:14.08,L:2243,R:3711,T:48,B:1148,xt:2965,ytx:2128,yty:622,slip:[slipOuterB,slipInnerB,slipMidB],cl:clusterCentersB,dots:meshDotsB},
{id:'c',caption:'c',capX:948,capY:2750,x0:1016,y0:1798,ux:14.3,uy:14.31,L:271,R:1762,T:1427,B:2545.5,xt:1005,ytx:152,yty:2014,slip:[slipOuterC,slipInnerC,slipMidC],cl:clusterCentersC,dots:meshDotsC},
{id:'d',caption:'d',capX:2925,capY:2750,x0:2898,y0:1793,ux:14.2,uy:14.22,L:2156,R:3640,T:1424,B:2536,xt:2886,ytx:2036,yty:2007,base:baseBandD,regions:regionsD,contours:contoursD,closed:[],labels:labelsD,streams:[streamsLower,streamsD],arrows:[arrowsCommon,arrowsD],cb:[3686,3738,1522,2512.5,3764,3755]},
{id:'e',caption:'e',capX:948,capY:4130,x0:928,y0:3166,ux:14.54,uy:14.54,L:169,R:1687,T:2789,B:3926,xt:915,ytx:46,yty:3384,base:baseBandE,regions:regionsE,contours:contoursE,closed:closedContoursE,labels:labelsE,streams:[streamsLower,streamsEdgeEF,streamsE],arrows:[arrowsCommon,arrowsE],src:[sourceCenterE,sourceRadiiE],cb:[1735,1789,2889,3902,1813,1805]},
{id:'f',caption:'f',capX:2925,capY:4127,x0:2898,y0:3166,ux:14.34,uy:14.36,L:2150,R:3647.5,T:2794,B:3916,xt:2887,ytx:2028,yty:3382,base:baseBandF,regions:regionsF,contours:contoursF,closed:closedContoursF,labels:labelsF,streams:[streamsLower,streamsEdgeEF,streamsF],arrows:[arrowsCommon,arrowsF],src:[sourceCenterF,sourceRadiiF],cb:[3695,3747,2894,3892,3773,3765]}
];

/* ---------- helpers ---------- */
const NS='http://www.w3.org/2000/svg';
const fig=document.getElementById('fig');
function mk(parent,tag,attrs,txt){
  const e=document.createElementNS(NS,tag);
  for(const k in attrs)e.setAttribute(k,attrs[k]);
  if(txt!==undefined)e.textContent=txt;
  parent.appendChild(e);
  return e;
}
function bandColor(v){return bandColors[bandLower.indexOf(v)];}
function scales(p){return {X:v=>p.x0+v*p.ux,Y:v=>p.y0-v*p.uy};}
function f1(n){return n.toFixed(1);}
function smoothPath(S,pts,closed){
  const n=pts.length;
  const at=i=>closed?pts[(i+n)%n]:pts[Math.max(0,Math.min(n-1,i))];
  let d='M'+f1(S.X(pts[0][0]))+' '+f1(S.Y(pts[0][1]));
  const segs=closed?n:n-1;
  for(let i=0;i<segs;i++){
    const a=at(i-1),b=at(i),c=at(i+1),e=at(i+2);
    const bx=S.X(b[0]),by=S.Y(b[1]),cx=S.X(c[0]),cy=S.Y(c[1]);
    const c1x=bx+(cx-S.X(a[0]))/6,c1y=by+(cy-S.Y(a[1]))/6;
    const c2x=cx-(S.X(e[0])-bx)/6,c2y=cy-(S.Y(e[1])-by)/6;
    d+='C'+f1(c1x)+' '+f1(c1y)+' '+f1(c2x)+' '+f1(c2y)+' '+f1(cx)+' '+f1(cy);
  }
  return closed?d+'Z':d;
}
function polyPath(S,pts){return pts.map((q,i)=>(i?'L':'M')+f1(S.X(q[0]))+' '+f1(S.Y(q[1]))).join('')+'Z';}
function insideDomain(x,y){
  if(x<-46||x>46||y<-45)return false;
  if(y<=10)return true;
  if(y>20)return false;
  const half=5+(20-y)*2;
  return Math.abs(x)<=half;
}
function delaunay(pts){
  const P=pts.slice();
  const n=P.length;
  P.push([-1000,-1000],[1000,-1000],[0,1500]);
  function tri(a,b,c){
    const A=P[a],B=P[b],C=P[c];
    const d=2*(A[0]*(B[1]-C[1])+B[0]*(C[1]-A[1])+C[0]*(A[1]-B[1]));
    if(Math.abs(d)<1e-9)return {a,b,c,x:0,y:0,r:Infinity};
    const s=q=>q[0]*q[0]+q[1]*q[1];
    const x=(s(A)*(B[1]-C[1])+s(B)*(C[1]-A[1])+s(C)*(A[1]-B[1]))/d;
    const y=(s(A)*(C[0]-B[0])+s(B)*(A[0]-C[0])+s(C)*(B[0]-A[0]))/d;
    return {a,b,c,x,y,r:(A[0]-x)*(A[0]-x)+(A[1]-y)*(A[1]-y)};
  }
  let T=[tri(n,n+1,n+2)];
  for(let i=0;i<n;i++){
    const q=P[i],keep=[],edges=new Map();
    for(const t of T){
      const dx=q[0]-t.x,dy=q[1]-t.y;
      if(dx*dx+dy*dy<t.r-1e-9){
        for(const [u,v] of [[t.a,t.b],[t.b,t.c],[t.c,t.a]]){
          const k=u<v?u+'_'+v:v+'_'+u;
          if(edges.has(k))edges.set(k,null);else edges.set(k,[u,v]);
        }
      }else keep.push(t);
    }
    T=keep;
    edges.forEach(e=>{if(e)T.push(tri(e[0],e[1],i));});
  }
  return {tris:T.filter(t=>t.a<n&&t.b<n&&t.c<n),P};
}
function meshNodes(p){
  const out=meshNodesCommon.concat(p.slip[0],p.slip[1],p.slip[2]);
  p.cl.forEach(c=>{
    clusterRadii.forEach((r0,i)=>{
      const r=r0*c[2];
      const m=clusterCounts[i];
      for(let k=0;k<m;k++){
        const x=c[0]+r*Math.cos(2*Math.PI*k/m+i*.4),y=c[1]+r*Math.sin(2*Math.PI*k/m+i*.4);
        if(insideDomain(x,y))out.push([x,y]);
      }
    });
    out.push([c[0],c[1]]);
  });
  return out;
}

/* ---------- drawing ---------- */
panels.forEach(p=>{
  const S=scales(p);
  const g=mk(fig,'g',{});
  
  
  const clipId='clip-'+p.id;
  const defs=mk(g,'defs',{});
  const cp=mk(defs,'clipPath',{id:clipId});
  mk(cp,'path',{d:polyPath(S,domainOutline)});

  const frame=mk(g,'rect',{x:p.L,y:p.T,width:p.R-p.L,height:p.B-p.T,fill:'#fff',stroke:'#555','stroke-width':2.2});
  
  

  if(p.slip){
    const dom=mk(g,'path',{d:polyPath(S,domainOutline),fill:'#fee7b5'});
    
    
    const band=p.slip[0].concat(p.slip[1].slice().reverse());
    const slipEl=mk(g,'path',{d:polyPath(S,band),fill:'#00ffff','clip-path':'url(#'+clipId+')'});
    
    
    const M=delaunay(meshNodes(p));
    const seen=new Set();
    let d='';
    M.tris.forEach(t=>{
      const cx=(M.P[t.a][0]+M.P[t.b][0]+M.P[t.c][0])/3,cy=(M.P[t.a][1]+M.P[t.b][1]+M.P[t.c][1])/3;
      if(!insideDomain(cx,cy))return;
      [[t.a,t.b],[t.b,t.c],[t.c,t.a]].forEach(([u,v])=>{
        const k=u<v?u+'_'+v:v+'_'+u;
        if(seen.has(k))return;
        seen.add(k);
        d+='M'+f1(S.X(M.P[u][0]))+' '+f1(S.Y(M.P[u][1]))+'L'+f1(S.X(M.P[v][0]))+' '+f1(S.Y(M.P[v][1]));
      });
    });
    const meshEl=mk(g,'path',{d:d,fill:'none',stroke:'#222','stroke-width':1.6,'clip-path':'url(#'+clipId+')'});
    
    
    const slipEdge=mk(g,'path',{d:polyPath(S,band),fill:'none',stroke:'#111','stroke-width':2.6,'clip-path':'url(#'+clipId+')'});
    
    
    p.dots.forEach(q=>{
      const dot=mk(g,'circle',{cx:S.X(q[0]),cy:S.Y(q[1]),r:4.5,fill:'#000'});
      
      
    });
    const edge=mk(g,'path',{d:polyPath(S,domainOutline),fill:'none',stroke:'#111','stroke-width':3.2});
    
    
  }else{
    const field=mk(g,'g',{'clip-path':'url(#'+clipId+')'});
    
    
    const baseEl=mk(field,'path',{d:polyPath(S,domainOutline),fill:bandColor(p.base)});
    
    
    p.regions.forEach(r=>{
      let d;
      if(r.closed)d=smoothPath(S,r.pts,true);
      else{
        const a=r.pts[0],b=r.pts[r.pts.length-1];
        const cl=r.close||[[b[0],30],[a[0],30]];
        d=smoothPath(S,r.pts,false)+cl.map(q=>'L'+f1(S.X(q[0]))+' '+f1(S.Y(q[1]))).join('')+'Z';
      }
      const el=mk(field,'path',{d:d,fill:bandColor(r.band)});
      
      
    });
    p.contours.forEach(c=>{
      const el=mk(field,'path',{d:smoothPath(S,c,false),fill:'none',stroke:'#ff2a33','stroke-width':2.2});
      
      
    });
    p.closed.forEach(c=>{
      const el=mk(field,'path',{d:smoothPath(S,c,true),fill:'none',stroke:'#ff2a33','stroke-width':2});
      
      
    });
    if(p.src){
      p.src[1].forEach(r=>{
        const el=mk(field,'ellipse',{cx:S.X(p.src[0][0]),cy:S.Y(p.src[0][1]),rx:r*p.ux,ry:r*p.uy,fill:'none',stroke:'#ff3a3a','stroke-width':1.5});
        
        
      });
    }
    p.streams.forEach(set=>set.forEach(s=>{
      const el=mk(field,'path',{d:smoothPath(S,s,false),fill:'none',stroke:'#141414','stroke-width':1.9});
      
      
    }));
    p.arrows.forEach(set=>set.forEach(a=>{
      const x1=S.X(a[0]),y1=S.Y(a[1]),x2=S.X(a[2]),y2=S.Y(a[3]),w=a[4];
      const L=Math.hypot(x2-x1,y2-y1)||1,ux=(x2-x1)/L,uy=(y2-y1)/L;
      const hl=8+3.5*w,hw=4+1.3*w;
      const bx=x2-ux*hl,by=y2-uy*hl;
      const ag=mk(field,'g',{});
      
      
      mk(ag,'line',{x1:x1,y1:y1,x2:bx,y2:by,stroke:'#000','stroke-width':w});
      mk(ag,'path',{d:'M'+f1(x2)+' '+f1(y2)+'L'+f1(bx-uy*hw)+' '+f1(by+ux*hw)+'L'+f1(bx+uy*hw)+' '+f1(by-ux*hw)+'Z',fill:'#000'});
    }));
    p.labels.forEach(l=>{
      const el=mk(field,'text',{x:S.X(l[1]),y:S.Y(l[2])+8,'font-size':24,'text-anchor':'middle',fill:'#ff2030'},l[0]);
      
      
    });
    const edge=mk(g,'path',{d:polyPath(S,domainOutline),fill:'none',stroke:'#666','stroke-width':2.6});
    
    
    /* colour bar */
    const cb=p.cb;
    const vTop=colorbarLevels[0],vBot=colorbarLevels[colorbarLevels.length-1];
    const cbY=v=>cb[3]-(v-vBot)/(vTop-vBot)*(cb[3]-cb[2]);
    const cg=mk(g,'g',{});
    
    
    bandLower.forEach((v,i)=>{
      const hi=colorbarLevels[i];
      const sw=mk(cg,'rect',{x:cb[0],y:cbY(hi),width:cb[1]-cb[0],height:cbY(v)-cbY(hi),fill:bandColors[i]});
      
      
    });
    const bx=mk(cg,'rect',{x:cb[0],y:cb[2],width:cb[1]-cb[0],height:cb[3]-cb[2],fill:'none',stroke:'#000','stroke-width':3.5});
    
    
    colorbarLevels.forEach(v=>{
      const y=cbY(v);
      if(v!==vTop&&v!==vBot){
        mk(cg,'line',{x1:cb[0],x2:cb[0]+10,y1:y,y2:y,stroke:'#000','stroke-width':2.5});
        mk(cg,'line',{x1:cb[1]-10,x2:cb[1],y1:y,y2:y,stroke:'#000','stroke-width':2.5});
      }
      const t=mk(cg,'text',{x:cb[4],y:y+17,'font-size':46,fill:'#111'},String(v));
      
      
    });
    const vt=mk(cg,'text',{x:cb[5],y:cb[2]-26,'font-size':46,'text-anchor':'middle',fill:'#111'},'V');
    
    
  }
  /* ticks and tick labels */
  const tk=mk(g,'g',{stroke:'#222','stroke-width':2});
  
  
  xTickValues.forEach(v=>{
    const x=S.X(v);
    mk(tk,'line',{x1:x,x2:x,y1:p.T,y2:p.T+12});
    mk(tk,'line',{x1:x,x2:x,y1:p.B-12,y2:p.B});
    const t=mk(g,'text',{x:x,y:p.B+49,'font-size':45,'text-anchor':'middle',fill:'#111'},String(v));
    
    
  });
  yTickValues.forEach(v=>{
    const y=S.Y(v);
    mk(tk,'line',{x1:p.L,x2:p.L+12,y1:y,y2:y});
    mk(tk,'line',{x1:p.R-12,x2:p.R,y1:y,y2:y});
    const t=mk(g,'text',{x:p.L-11,y:y+16,'font-size':45,'text-anchor':'end',fill:'#111'},String(v));
    
    
  });
  const xt=mk(g,'text',{x:p.xt,y:p.B+114,'font-size':43,'text-anchor':'middle',fill:'#333'},'X-coordinate');
  
  
  const yt=mk(g,'text',{x:0,y:0,transform:'translate('+(p.ytx+15)+' '+p.yty+') rotate(-90)','font-size':43,'text-anchor':'middle',fill:'#333'},'Y-coordinate');
  
  
  const cap=mk(g,'text',{x:p.capX,y:p.capY,'font-size':66,'text-anchor':'middle',fill:'#111','style':'font-family:"Liberation Serif",serif'});
  
  
  mk(cap,'tspan',{},'(');
  mk(cap,'tspan',{'font-weight':'bold'},p.caption);
  mk(cap,'tspan',{},')');
});
</script>
</body>
</html>
